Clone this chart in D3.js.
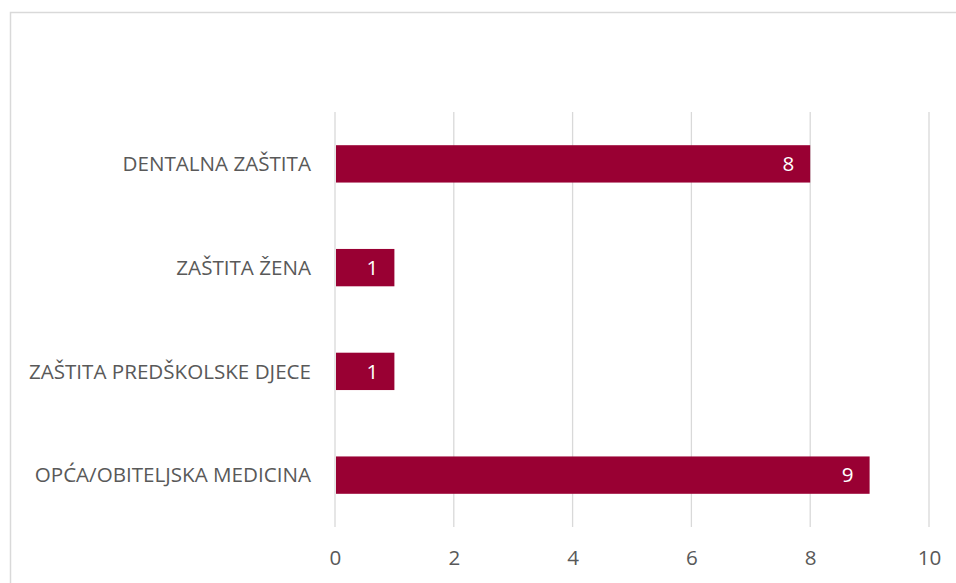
<!DOCTYPE html>
<html><head><meta charset="utf-8">
<script src="https://cdn.jsdelivr.net/npm/d3@7"></script>
<style>body{margin:0;background:#fff;} svg{display:block;}</style>
</head><body>
<svg id="c" width="956" height="583"></svg>
<script>
const categories = ["DENTALNA ZAŠTITA", "ZAŠTITA ŽENA", "ZAŠTITA PREDŠKOLSKE DJECE", "OPĆA/OBITELJSKA MEDICINA"];
const values = [8, 1, 1, 9];
const ticks = [0, 2, 4, 6, 8, 10];

const svg = d3.select("#c");
const font = "'Open Sans', sans-serif";
const fs = 20.6;
const W = 956, H = 583;
const m = {left: 335, right: 27, top: 112, bottom: 56};

svg.append("rect").attr("x", 10.5).attr("y", 12.5).attr("width", 960).attr("height", 600)
  .attr("fill", "#fff").attr("stroke", "#d9d9d9").attr("stroke-width", 1.5);

const x = d3.scaleLinear().domain([0, 10]).range([m.left, W - m.right]);
const y = d3.scaleBand().domain(categories).range([m.top, H - m.bottom]).paddingInner(0.64).paddingOuter(0.32);

const g = svg.append("g");
g.selectAll("line.grid").data(ticks).join("line").attr("class", "grid")
  .attr("x1", d => x(d)).attr("x2", d => x(d))
  .attr("y1", m.top).attr("y2", H - m.bottom)
  .attr("stroke", "#d9d9d9").attr("stroke-width", 1.3);

const xAxis = d3.axisBottom(x).tickValues(ticks).tickSize(0).tickPadding(0);
const ax = svg.append("g").attr("transform", `translate(0,${H - m.bottom + 23})`).call(xAxis);
ax.select(".domain").remove();
ax.selectAll("text").attr("font-family", font).attr("font-size", fs).attr("fill", "#595959").attr("dy", "0.71em");

const yAxis = d3.axisLeft(y).tickSize(0).tickPadding(24);
const ay = svg.append("g").attr("transform", `translate(${m.left},0)`).call(yAxis);
ay.select(".domain").remove();
ay.selectAll("text").attr("font-family", font).attr("font-size", fs).attr("fill", "#595959").attr("dy", "0.35em");

const data = categories.map((c, i) => ({c, v: values[i]}));
svg.selectAll("rect.bar").data(data).join("rect").attr("class", "bar")
  .attr("x", x(0) + 1).attr("y", d => y(d.c))
  .attr("width", d => x(d.v) - x(0) - 1).attr("height", y.bandwidth())
  .attr("fill", "#990033");

svg.selectAll("text.val").data(data).join("text").attr("class", "val")
  .attr("x", d => x(d.v) - 16).attr("y", d => y(d.c) + y.bandwidth() / 2)
  .attr("dy", "0.35em").attr("text-anchor", "end")
  .attr("font-family", font).attr("font-size", fs).attr("fill", "#fff")
  .text(d => d.v);
</script>
</body></html>
